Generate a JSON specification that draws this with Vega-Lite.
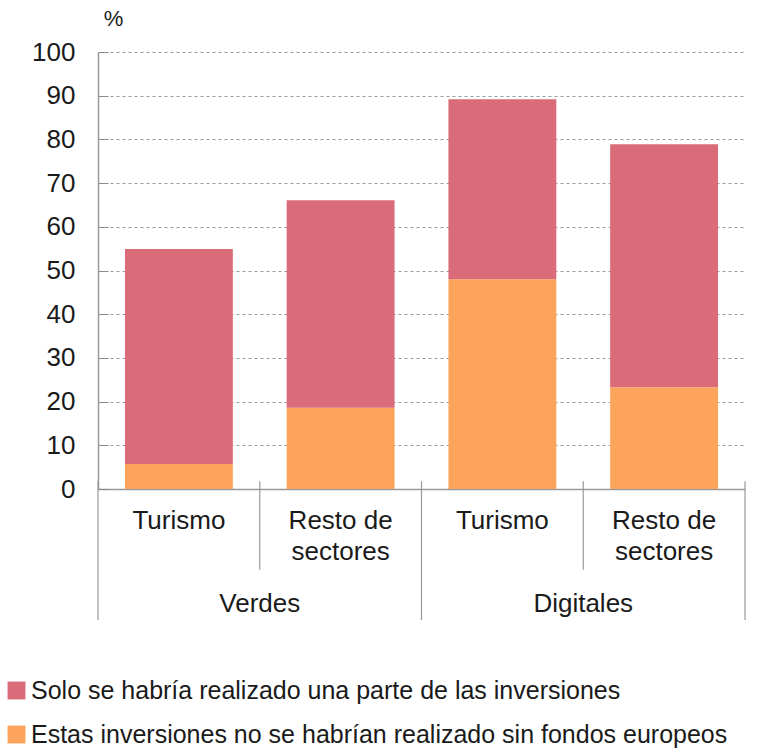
{
  "$schema": "https://vega.github.io/schema/vega-lite/v6.json",
  "width": 647,
  "height": 437,
  "autosize": {"type": "none"},
  "padding": {"left": 98, "top": 52, "right": 13, "bottom": 261},
  "config": {
    "font": "Liberation Sans",
    "view": {"stroke": null},
    "text": {"color": "#1a1a1a"}
  },
  "datasets": {
    "barras": [
      {"grupo": "Verdes", "id": "Verdes Turismo", "serie": "Estas inversiones no se habrían realizado sin fondos europeos", "valor": 5.7},
      {"grupo": "Verdes", "id": "Verdes Turismo", "serie": "Solo se habría realizado una parte de las inversiones", "valor": 49.2},
      {"grupo": "Verdes", "id": "Verdes Resto de sectores", "serie": "Estas inversiones no se habrían realizado sin fondos europeos", "valor": 18.6},
      {"grupo": "Verdes", "id": "Verdes Resto de sectores", "serie": "Solo se habría realizado una parte de las inversiones", "valor": 47.5},
      {"grupo": "Digitales", "id": "Digitales Turismo", "serie": "Estas inversiones no se habrían realizado sin fondos europeos", "valor": 48.0},
      {"grupo": "Digitales", "id": "Digitales Turismo", "serie": "Solo se habría realizado una parte de las inversiones", "valor": 41.2},
      {"grupo": "Digitales", "id": "Digitales Resto de sectores", "serie": "Estas inversiones no se habrían realizado sin fondos europeos", "valor": 23.3},
      {"grupo": "Digitales", "id": "Digitales Resto de sectores", "serie": "Solo se habría realizado una parte de las inversiones", "valor": 55.6}
    ],
    "grupos": [
      {"grupo": "Verdes"},
      {"grupo": "Digitales"}
    ]
  },
  "layer": [
    {
      "data": {"name": "barras"},
      "mark": {"type": "bar"},
      "encoding": {
        "x": {
          "field": "id",
          "type": "nominal",
          "sort": ["Verdes Turismo", "Verdes Resto de sectores", "Digitales Turismo", "Digitales Resto de sectores"],
          "scale": {"paddingInner": 0.333, "paddingOuter": 0.1667},
          "axis": {
            "title": null,
            "ticks": false,
            "labelAngle": 0,
            "labelFontSize": 26,
            "labelColor": "#1a1a1a",
            "labelBaseline": "top",
            "labelPadding": 18,
            "labelLineHeight": 31,
            "labelExpr": "indexof(datum.value, 'Turismo') >= 0 ? 'Turismo' : ['Resto de', 'sectores']",
            "domainColor": "#999999",
            "domainWidth": 1.5
          }
        },
        "y": {
          "field": "valor",
          "type": "quantitative",
          "stack": "zero",
          "scale": {"domain": [0, 100]},
          "axis": {
            "title": "%",
            "titleAngle": 0,
            "titleAlign": "center",
            "titleBaseline": "middle",
            "titleX": 15,
            "titleY": -34,
            "titleFontSize": 22,
            "titleFontWeight": "normal",
            "titleColor": "#1a1a1a",
            "values": [0, 10, 20, 30, 40, 50, 60, 70, 80, 90, 100],
            "grid": true,
            "gridDash": [3, 3],
            "gridColor": "#9a9a9a",
            "ticks": true,
            "tickSize": -10,
            "tickColor": "#888888",
            "labelFontSize": 26,
            "labelColor": "#1a1a1a",
            "labelPadding": 33,
            "domainColor": "#999999",
            "domainWidth": 1.5
          }
        },
        "color": {
          "field": "serie",
          "type": "nominal",
          "scale": {
            "domain": ["Solo se habría realizado una parte de las inversiones", "Estas inversiones no se habrían realizado sin fondos europeos"],
            "range": ["#da6b78", "#fda45c"]
          },
          "legend": {
            "title": null,
            "orient": "none",
            "legendX": -94,
            "legendY": 626,
            "direction": "vertical",
            "symbolType": "square",
            "symbolSize": 320,
            "symbolStrokeWidth": 0,
            "labelFontSize": 25,
            "labelColor": "#1a1a1a",
            "labelOffset": 2,
            "labelLimit": 800,
            "rowPadding": 18
          }
        },
        "order": {"field": "serie", "sort": "ascending"}
      }
    },
    {
      "data": {"name": "grupos"},
      "mark": {"type": "rule", "color": "#999999", "strokeWidth": 1.2},
      "encoding": {
        "x": {"field": "grupo", "type": "nominal", "scale": {"type": "band", "domain": ["Verdes", "Digitales"], "padding": 0}, "bandPosition": 0, "axis": null},
        "y": {"datum": 1.8, "type": "quantitative", "scale": {"domain": [0, 100]}},
        "y2": {"datum": -30}
      }
    },
    {
      "data": {"name": "grupos"},
      "mark": {"type": "rule", "color": "#999999", "strokeWidth": 1.2},
      "encoding": {
        "x": {"field": "grupo", "type": "nominal", "scale": {"type": "band", "domain": ["Verdes", "Digitales"], "padding": 0}, "bandPosition": 0.5, "axis": null},
        "y": {"datum": 1.8, "type": "quantitative", "scale": {"domain": [0, 100]}},
        "y2": {"datum": -18.5}
      }
    },
    {
      "data": {"name": "grupos"},
      "transform": [{"filter": "datum.grupo == 'Digitales'"}],
      "mark": {"type": "rule", "color": "#999999", "strokeWidth": 1.2},
      "encoding": {
        "x": {"field": "grupo", "type": "nominal", "scale": {"type": "band", "domain": ["Verdes", "Digitales"], "padding": 0}, "bandPosition": 1, "axis": null},
        "y": {"datum": 1.8, "type": "quantitative", "scale": {"domain": [0, 100]}},
        "y2": {"datum": -30}
      }
    },
    {
      "data": {"name": "grupos"},
      "mark": {"type": "text", "fontSize": 26, "baseline": "middle", "align": "center"},
      "encoding": {
        "x": {"field": "grupo", "type": "nominal", "scale": {"type": "band", "domain": ["Verdes", "Digitales"], "padding": 0}, "bandPosition": 0.5, "axis": null},
        "y": {"datum": -26.3, "type": "quantitative", "scale": {"domain": [0, 100]}},
        "text": {"field": "grupo"}
      }
    }
  ],
  "resolve": {"scale": {"x": "independent"}}
}
